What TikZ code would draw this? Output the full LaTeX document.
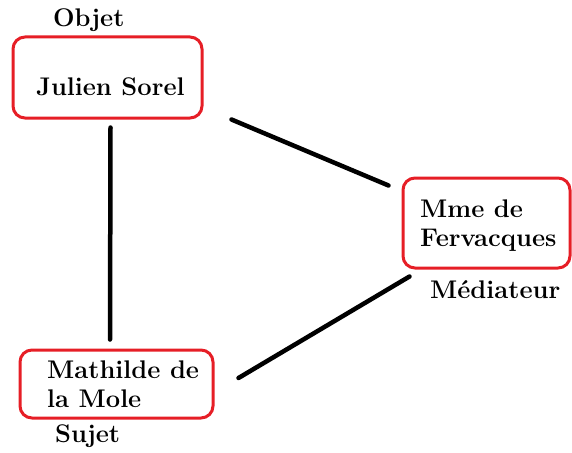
\documentclass[tikz,border=0pt]{standalone}
\usepackage{fontspec}
\usepackage{xcolor}
\usepackage{tikz}
\definecolor{boxred}{RGB}{230,30,38}
\tikzset{
  rolebox/.style={draw=boxred, line width=3pt, rounded corners=12pt, inner sep=0pt},
  rolename/.style={anchor=base west, inner sep=0pt, align=left,
    font=\fontsize{25.5}{29}\selectfont\bfseries},
  link/.style={line width=4.5pt, line cap=round}
}
\begin{document}
\begin{tikzpicture}[x=1pt, y=-1pt]
                \useasboundingbox (0,0) rectangle (572,452);
                % the three boxes
                \node [rolebox, minimum width=189pt, minimum height=81pt] (julien) at (107.5,77.5) {};
                \node [rolebox, minimum width=167pt, minimum height=90pt] (mme) at (486.5,223) {};
                \node [rolebox, minimum width=193pt, minimum height=68pt] (mathilde) at (116.5,384) {};
                % names and roles (two-line names sit on their last baseline)
                \node [rolename] (jname) at (36,95) {Julien Sorel};
                \node [rolename] (mname) at (420,246) {Mme de\\Fervacques};
                \node [rolename] (tname) at (47,407) {Mathilde de\\la Mole};
                \node [rolename] (objet) at (53,27) {Objet};
                \node [rolename] (mediateur) at (430,298) {Médiateur};
                \node [rolename] (sujet) at (55,442) {Sujet};
                % links
                \draw [link] ([shift={(3,8)}]julien.south) to ([shift={(-6.5,-9)}]mathilde.north);
                \draw [link] ([shift={(28,0)}]julien.south east) to ([shift={(-13,9)}]mme.north west);
                \draw [link] ([shift={(24,-6)}]mathilde.east) to ([shift={(8,7)}]mme.south west);
\end{tikzpicture}
\end{document}
